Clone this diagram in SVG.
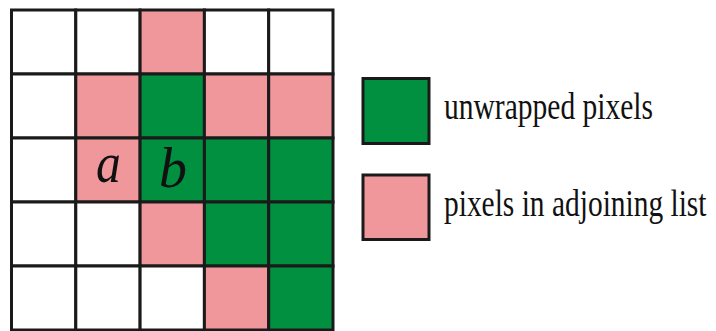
<svg xmlns="http://www.w3.org/2000/svg" width="716" height="331" viewBox="0 0 716 331">
<style>
.w{fill:#ffffff}
.p{fill:#f0979c}
.g{fill:#00903f}
.c{stroke:#1a1a1a;stroke-width:3}
.lbl{font-family:"Liberation Serif","Times New Roman",serif;font-size:38px;fill:#111}
.it{font-family:"Liberation Serif","Times New Roman",serif;font-style:italic;font-size:57px;fill:#111}
</style>
<rect width="716" height="331" fill="#fff"/>
<g id="grid">
<rect class="w c" x="11.5" y="10" width="64.3" height="64"/>
<rect class="w c" x="75.8" y="10" width="64.3" height="64"/>
<rect class="p c" x="140.1" y="10" width="64.3" height="64"/>
<rect class="w c" x="204.4" y="10" width="64.3" height="64"/>
<rect class="w c" x="268.7" y="10" width="64.3" height="64"/>

<rect class="w c" x="11.5" y="74" width="64.3" height="64"/>
<rect class="p c" x="75.8" y="74" width="64.3" height="64"/>
<rect class="g c" x="140.1" y="74" width="64.3" height="64"/>
<rect class="p c" x="204.4" y="74" width="64.3" height="64"/>
<rect class="p c" x="268.7" y="74" width="64.3" height="64"/>

<rect class="w c" x="11.5" y="138" width="64.3" height="64"/>
<rect class="p c" x="75.8" y="138" width="64.3" height="64"/>
<rect class="g c" x="140.1" y="138" width="64.3" height="64"/>
<rect class="g c" x="204.4" y="138" width="64.3" height="64"/>
<rect class="g c" x="268.7" y="138" width="64.3" height="64"/>

<rect class="w c" x="11.5" y="202" width="64.3" height="64"/>
<rect class="w c" x="75.8" y="202" width="64.3" height="64"/>
<rect class="p c" x="140.1" y="202" width="64.3" height="64"/>
<rect class="g c" x="204.4" y="202" width="64.3" height="64"/>
<rect class="g c" x="268.7" y="202" width="64.3" height="64"/>

<rect class="w c" x="11.5" y="266" width="64.3" height="64"/>
<rect class="w c" x="75.8" y="266" width="64.3" height="64"/>
<rect class="w c" x="140.1" y="266" width="64.3" height="64"/>
<rect class="p c" x="204.4" y="266" width="64.3" height="64"/>
<rect class="g c" x="268.7" y="266" width="64.3" height="64"/>
</g>
<g id="node-a"><text class="it" transform="translate(96,182) scale(0.87,1)">a</text></g>
<g id="node-b"><text class="it" transform="translate(159,187) scale(0.98,1)">b</text></g>
<g id="legend-unwrapped">
<rect class="g c" x="363" y="78.5" width="66" height="65"/>
<text class="lbl" transform="translate(444,119) scale(0.777,1)">unwrapped pixels</text>
</g>
<g id="legend-adjoining">
<rect class="p c" x="363" y="175" width="66" height="64.5"/>
<text class="lbl" transform="translate(444,216) scale(0.775,1)">pixels in adjoining list</text>
</g>
</svg>
